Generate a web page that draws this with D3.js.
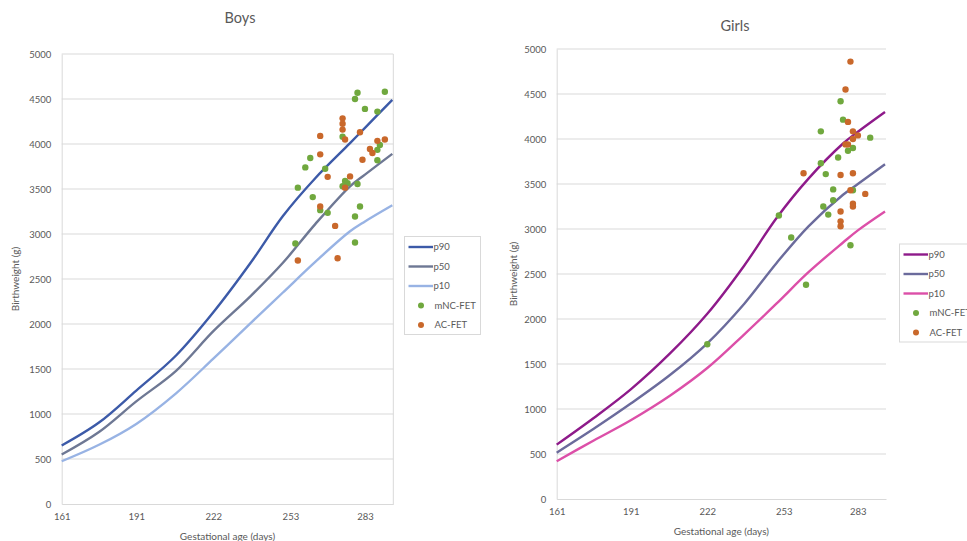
<!DOCTYPE html>
<html>
<head>
<meta charset="utf-8">
<script src="https://cdn.jsdelivr.net/npm/d3@7"></script>
<style>
  body { margin: 0; background: #fff; }
  svg { display: block; font-family: Lato, "Open Sans", sans-serif; }
</style>
</head>
<body>
<div id="graphiques"></div>
<script>
//----------------------------------------------------------------
//  Données
//----------------------------------------------------------------
var jours = [161, 176, 191, 207, 222, 237, 250, 263, 277, 283, 294];

var garconsP90 = [650, 905, 1260, 1650, 2130, 2680, 3200, 3620, 4010, 4180, 4490];
var garconsP50 = [550, 800, 1140, 1480, 1920, 2310, 2680, 3110, 3530, 3660, 3890];
var garconsP10 = [475, 658, 890, 1230, 1615, 2010, 2350, 2690, 3030, 3140, 3320];

var fillesP90 = [604, 900, 1218, 1620, 2058, 2595, 3120, 3560, 3950, 4080, 4300];
var fillesP50 = [515, 780, 1060, 1380, 1730, 2170, 2620, 3030, 3380, 3500, 3720];
var fillesP10 = [420, 650, 875, 1150, 1455, 1830, 2170, 2520, 2850, 2985, 3195];

// points mNC-FET et AC-FET
var garconsMncJours = [291, 280, 279, 283, 288, 274, 261, 259, 267, 289, 288, 288, 256, 262, 265, 268, 275, 276, 274, 280, 281, 279, 279, 255];
var garconsMncPoids = [4580, 4570, 4500, 4390, 4360, 4080, 3845, 3740, 3725, 3990, 3935, 3820, 3515, 3410, 3265, 3235, 3590, 3565, 3530, 3555, 3305, 3195, 2905, 2895];
var garconsAcJours = [274, 274, 274, 275, 265, 265, 281, 288, 285, 286, 291, 282, 268, 277, 275, 265, 271, 256, 272];
var garconsAcPoids = [4285, 4225, 4160, 4050, 4090, 3885, 4130, 4035, 3945, 3900, 4050, 3825, 3635, 3640, 3515, 3305, 3090, 2705, 2730];

var fillesMncJours = [276, 277, 268, 288, 281, 279, 275, 268, 270, 273, 273, 269, 271, 281, 280, 251, 256, 262, 222];
var fillesMncPoids = [4420, 4215, 4085, 4015, 3900, 3870, 3795, 3730, 3610, 3440, 3320, 3250, 3160, 3430, 2820, 3150, 2905, 2380, 1720];
var fillesAcJours = [280, 278, 279, 281, 283, 281, 278, 279, 261, 276, 281, 280, 286, 281, 281, 276, 276, 276];
var fillesAcPoids = [4860, 4550, 4190, 4085, 4040, 4000, 3940, 3940, 3620, 3600, 3620, 3430, 3390, 3280, 3250, 3195, 3085, 3030];

var ticksX = [161, 191, 222, 253, 283];
var ticksY = [0, 500, 1000, 1500, 2000, 2500, 3000, 3500, 4000, 4500, 5000];
var legendes = ["p90", "p50", "p10", "mNC-FET", "AC-FET"];

//----------------------------------------------------------------
//  Création du svg
//----------------------------------------------------------------
var svg = d3.select("#graphiques")
    .append("svg")
    .attr("width", 967)
    .attr("height", 541);

svg.append("rect").attr("width", 967).attr("height", 541).attr("fill", "#fff");

var gris = "#595959";
var vert = "#70a83e";
var orange = "#c9682b";

//----------------------------------------------------------------
//  Dessine un graphique (garçons ou filles)
//----------------------------------------------------------------
function dessinerGraphique(p) {

    var x = d3.scaleLinear().domain([161, 294.4]).range([p.gauche, p.droite]);
    var y = d3.scaleLinear().domain([0, 5000]).range([p.bas, p.haut]);

    var g = svg.append("g");

    // lignes de grille
    g.append("g")
        .selectAll("line")
        .data(ticksY.slice(1))
        .enter().append("line")
            .attr("x1", p.gauche)
            .attr("x2", p.droite)
            .attr("y1", function(d) { return y(d); })
            .attr("y2", function(d) { return y(d); })
            .attr("stroke", "#d9d9d9")
            .attr("stroke-width", 1);

    if (p.cadre) {
        g.append("line")
            .attr("x1", p.droite).attr("x2", p.droite)
            .attr("y1", p.haut).attr("y2", p.bas)
            .attr("stroke", "#d9d9d9");
    }

    // axes
    var axeY = g.append("g")
        .attr("transform", "translate(" + p.gauche + ",0)")
        .call(d3.axisLeft(y).tickValues(ticksY).tickFormat(d3.format("d"))
            .tickSize(0).tickSizeOuter(0).tickPadding(10.5));
    var axeX = g.append("g")
        .attr("transform", "translate(0," + p.bas + ")")
        .call(d3.axisBottom(x).tickValues(ticksX).tickFormat(d3.format("d"))
            .tickSize(0).tickSizeOuter(0).tickPadding(9.5));

    [axeX, axeY].forEach(function(a) {
        a.select(".domain").attr("stroke", "#d9d9d9");
        a.selectAll("text")
            .attr("fill", gris)
            .style("font-size", "9.5px")
            .style("font-family", "Lato, sans-serif");
    });

    // courbes p90, p50, p10
    var ligne = d3.line()
        .x(function(d, i) { return x(jours[i]); })
        .y(function(d) { return y(d); })
        .curve(d3.curveCatmullRom.alpha(0.5));

    var courbes = [p.p90, p.p50, p.p10];
    courbes.forEach(function(serie, k) {
        g.append("path")
            .datum(serie)
            .attr("d", ligne)
            .attr("fill", "none")
            .attr("stroke", p.couleurs[k])
            .attr("stroke-width", 2.4)
            .attr("stroke-linejoin", "round");
    });

    // points
    var nuages = [[p.mncJours, p.mncPoids, vert], [p.acJours, p.acPoids, orange]];
    nuages.forEach(function(n) {
        g.append("g")
            .selectAll("circle")
            .data(n[0])
            .enter().append("circle")
                .attr("cx", function(d) { return x(d); })
                .attr("cy", function(d, i) { return y(n[1][i]); })
                .attr("r", 3.2)
                .attr("fill", n[2]);
    });

    // titres
    g.append("text")
        .attr("x", p.titreX).attr("y", p.titreY)
        .attr("text-anchor", "middle")
        .attr("fill", gris)
        .style("font-size", "14.5px")
        .text(p.titre);

    g.append("text")
        .attr("x", (p.gauche + p.droite) / 2).attr("y", p.bas + 35.5)
        .attr("text-anchor", "middle")
        .attr("fill", gris)
        .style("font-size", "10px")
        .text("Gestational age (days)");

    g.append("text")
        .attr("transform", "translate(" + p.titreYX + "," + ((p.haut + p.bas) / 2) + ") rotate(-90)")
        .attr("text-anchor", "middle")
        .attr("dy", "0.35em")
        .attr("fill", gris)
        .style("font-size", "10px")
        .text("Birthweight (g)");

    // légende
    var leg = g.append("g").attr("transform", "translate(" + p.legX + "," + p.legY + ")");
    leg.append("rect")
        .attr("width", 76).attr("height", 98)
        .attr("fill", "#fff")
        .attr("stroke", "#d9d9d9");

    legendes.forEach(function(nom, k) {
        var yy = 10.5 + k * 19.5;
        if (k < 3) {
            leg.append("line")
                .attr("x1", 4).attr("x2", 28.5)
                .attr("y1", yy).attr("y2", yy)
                .attr("stroke", p.couleurs[k])
                .attr("stroke-width", 2.4);
        } else {
            leg.append("circle")
                .attr("cx", 16.5).attr("cy", yy)
                .attr("r", 3)
                .attr("fill", k == 3 ? vert : orange);
        }
        leg.append("text")
            .attr("x", k < 3 ? 29 : 30).attr("y", yy)
            .attr("dy", "0.35em")
            .attr("fill", gris)
            .style("font-size", "9.5px")
            .text(nom);
    });
}

//----------------------------------------------------------------
//  Garçons puis filles
//----------------------------------------------------------------
dessinerGraphique({
    titre: "Boys", titreX: 240, titreY: 23,
    gauche: 61.7, droite: 393.3, haut: 54, bas: 504, cadre: true,
    titreYX: 15, legX: 404.5, legY: 236.5,
    couleurs: ["#3c5aa8", "#6e7894", "#98b3e4"],
    p90: garconsP90, p50: garconsP50, p10: garconsP10,
    mncJours: garconsMncJours, mncPoids: garconsMncPoids,
    acJours: garconsAcJours, acPoids: garconsAcPoids
});

dessinerGraphique({
    titre: "Girls", titreX: 735, titreY: 31,
    gauche: 556.7, droite: 886, haut: 49, bas: 499, cadre: false,
    titreYX: 513, legX: 899.5, legY: 244,
    couleurs: ["#8e1a8a", "#6b6b9c", "#dc4fa8"],
    p90: fillesP90, p50: fillesP50, p10: fillesP10,
    mncJours: fillesMncJours, mncPoids: fillesMncPoids,
    acJours: fillesAcJours, acPoids: fillesAcPoids
});
</script>
</body>
</html>
